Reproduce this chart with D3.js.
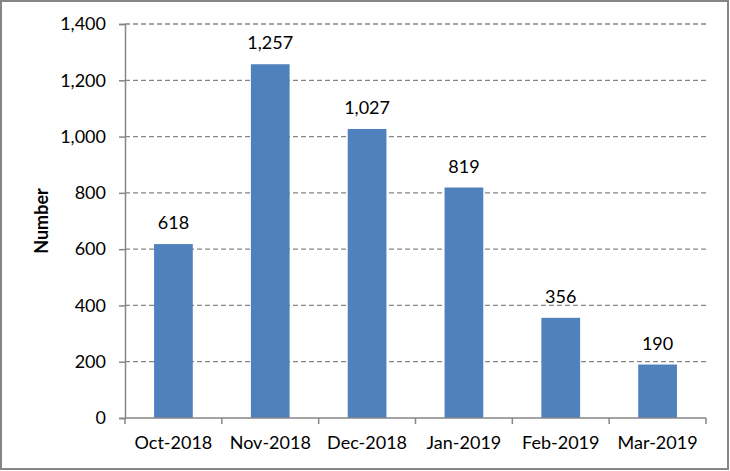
<!DOCTYPE html>
<html><head><meta charset="utf-8">
<script src="https://cdn.jsdelivr.net/npm/d3@7"></script>
<style>body{margin:0;background:#fff}svg{display:block}text{font-family:Lato,"Open Sans",sans-serif;fill:#000}</style>
</head><body><svg id="c" width="730" height="471"></svg>
<script>
const categories = ["Oct-2018","Nov-2018","Dec-2018","Jan-2019","Feb-2019","Mar-2019"];
const values = [618,1257,1027,819,356,190];
const yTicks = [0,200,400,600,800,1000,1200,1400];
const yLabel = "Number";
const FONT = "Lato,'Open Sans',sans-serif";
const FS = 18;

const svg = d3.select("#c");
svg.append("rect").attr("x",1).attr("y",1).attr("width",727).attr("height",468)
  .attr("fill","#fff").attr("stroke","#868686").attr("stroke-width",2);

const L=125, R=706, T=24, B=418;
const x = d3.scaleBand().domain(categories).range([L,R]).paddingInner(0.6).paddingOuter(0.3);
const xo = d3.scaleBand().domain(categories).range([L,R]);
const y = d3.scaleLinear().domain([0,1400]).range([B,T]);
const fmt = d3.format(",");

svg.append("g").selectAll("line").data(yTicks.filter(d=>d>0)).join("line")
  .attr("x1",L).attr("x2",R).attr("y1",d=>y(d)).attr("y2",d=>y(d))
  .attr("stroke","#868686").attr("stroke-width",1.3).attr("stroke-dasharray","5,3");

svg.append("g").selectAll("rect").data(values).join("rect")
  .attr("x",(d,i)=>x(categories[i])).attr("width",x.bandwidth())
  .attr("y",d=>y(d)).attr("height",d=>B-y(d)).attr("fill","#4F81BD");

svg.append("g").selectAll("text").data(values).join("text")
  .attr("x",(d,i)=>x(categories[i])+x.bandwidth()/2).attr("y",d=>y(d)-15)
  .attr("text-anchor","middle").attr("font-size",FS).attr("font-family",FONT).text(d=>fmt(d));

const ya = svg.append("g").attr("transform",`translate(${L},0)`)
  .call(d3.axisLeft(y).tickValues(yTicks).tickFormat(fmt).tickSize(6).tickPadding(13));
ya.select(".domain").attr("stroke","#868686").attr("stroke-width",1.5);
ya.selectAll(".tick line").attr("stroke","#868686").attr("stroke-width",1.5);
ya.selectAll(".tick text").attr("font-size",FS).attr("font-family",FONT);

const xa = svg.append("g").attr("transform",`translate(0,${B})`)
  .call(d3.axisBottom(xo).tickSize(0).tickPadding(18));
xa.select(".domain").attr("stroke","#868686").attr("stroke-width",1.5).attr("d",`M${L},0H${R}`);
xa.selectAll(".tick text").attr("font-size",FS).attr("font-family",FONT);
svg.append("g").selectAll("line").data(d3.range(categories.length+1)).join("line")
  .attr("x1",i=>L+i*xo.step()).attr("x2",i=>L+i*xo.step()).attr("y1",B).attr("y2",B+6)
  .attr("stroke","#868686").attr("stroke-width",1.5);

svg.append("text").attr("transform",`translate(48,${(T+B)/2}) rotate(-90)`)
  .attr("text-anchor","middle").attr("font-size",FS).attr("font-weight","bold").attr("font-family",FONT).text(yLabel);
</script></body></html>
